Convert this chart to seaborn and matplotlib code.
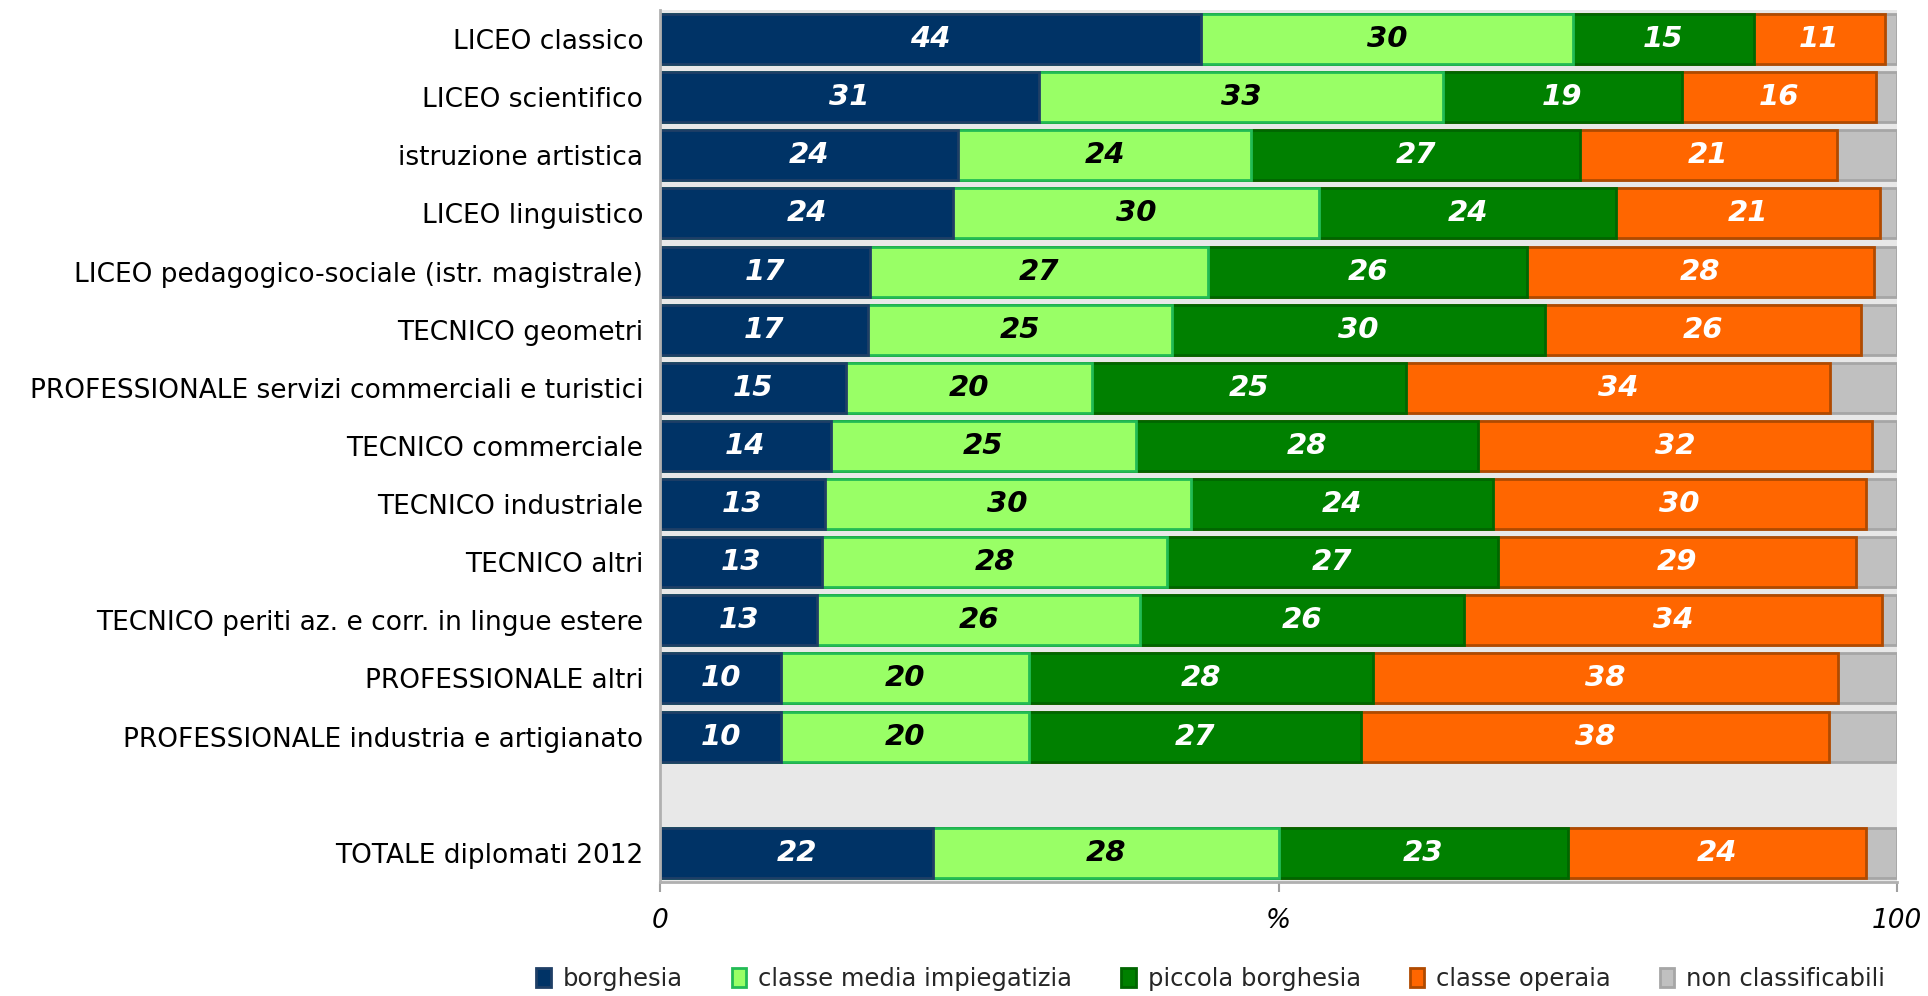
import matplotlib
matplotlib.use("Agg")
import matplotlib.pyplot as plt
import seaborn as sns
import pandas as pd
from matplotlib.patches import Patch

categories = [
    "LICEO classico",
    "LICEO scientifico",
    "istruzione artistica",
    "LICEO linguistico",
    "LICEO pedagogico-sociale (istr. magistrale)",
    "TECNICO geometri",
    "PROFESSIONALE servizi commerciali e turistici",
    "TECNICO commerciale",
    "TECNICO industriale",
    "TECNICO altri",
    "TECNICO periti az. e corr. in lingue estere",
    "PROFESSIONALE altri",
    "PROFESSIONALE industria e artigianato",
    "TOTALE diplomati 2012",
]
spacer = " "
order = categories[:13] + [spacer] + categories[13:]

series_names = ["borghesia", "classe media impiegatizia", "piccola borghesia",
                "classe operaia", "non classificabili"]
borghesia = [43.7, 30.6, 24.1, 23.7, 17.0, 16.8, 15.0, 13.8, 13.3, 13.1, 12.7, 9.8, 9.8, 22.1]
media_impiegatizia = [30.1, 32.7, 23.7, 29.6, 27.3, 24.6, 19.9, 24.7, 29.6, 27.9, 26.1, 20.0, 20.0, 27.9]
piccola_borghesia = [14.6, 19.3, 26.6, 24.0, 25.8, 30.1, 25.4, 27.6, 24.4, 26.7, 26.2, 27.8, 26.9, 23.4]
classe_operaia = [10.6, 15.7, 20.7, 21.3, 28.0, 25.6, 34.3, 31.9, 30.2, 29.0, 33.8, 37.6, 37.8, 24.1]
non_classificabili = [1.0, 1.7, 4.9, 1.4, 1.9, 2.9, 5.4, 2.0, 2.5, 3.3, 1.2, 4.8, 5.5, 2.5]

series = [borghesia, media_impiegatizia, piccola_borghesia, classe_operaia, non_classificabili]
fills = ["#003366", "#99FF66", "#008000", "#FF6600", "#C0C0C0"]
edges = ["#1F3F66", "#22BB55", "#006600", "#B04A00", "#A6A6A6"]
text_colors = ["white", "black", "white", "white", None]

sns.set_theme(style="white")
plt.rcParams["font.family"] = ["DejaVu Sans"]

fig = plt.figure(figsize=(19.28, 9.96), dpi=100)
ax = fig.add_axes([0.3423, 0.1145, 0.9840 - 0.3423, 0.990 - 0.1145])
ax.set_facecolor("#E8E8E8")

# cumulative sums
cums = []
running = [0.0] * len(categories)
for s in series:
    running = [r + v for r, v in zip(running, s)]
    cums.append(list(running))

# draw from the outermost layer inward so each stack segment is visible
for i in range(len(series) - 1, -1, -1):
    df = pd.DataFrame({"cat": categories, "val": cums[i]})
    sns.barplot(data=df, x="val", y="cat", order=order, orient="h",
                color=fills[i], saturation=1, edgecolor=edges[i], linewidth=2,
                width=0.86, errorbar=None, ax=ax)

# value labels
for i, s in enumerate(series):
    if text_colors[i] is None:
        continue
    for j, cat in enumerate(categories):
        ypos = order.index(cat)
        left = cums[i][j] - s[j]
        ax.text(left + s[j] / 2, ypos, f"{round(s[j]):d}", ha="center", va="center",
                color=text_colors[i], fontsize=21, fontweight="bold", fontstyle="italic")

ax.set_xlim(0, 100)
ax.set_ylim(len(order) - 0.5, -0.5)
ax.set_xlabel("")
ax.set_ylabel("")
ax.set_xticks([0, 50, 100])
ax.set_xticklabels(["0", "%", "100"], fontsize=19, fontstyle="italic", color="black")
ax.tick_params(axis="x", direction="out", length=7, width=1.5, color="#A0A0A0", pad=12,
               bottom=True)
ax.tick_params(axis="y", length=0, pad=12, labelsize=19, labelcolor="black")

for side in ["top", "right"]:
    ax.spines[side].set_visible(False)
for side in ["left", "bottom"]:
    ax.spines[side].set_visible(True)
    ax.spines[side].set_color("#B0B0B0")
    ax.spines[side].set_linewidth(2)

handles = [Patch(facecolor=fills[i], edgecolor=edges[i], linewidth=2, label=series_names[i])
           for i in range(len(series))]
fig.legend(handles=handles, loc="center", bbox_to_anchor=(0.628, 0.017), ncol=5,
           frameon=False, fontsize=17.5, handlelength=0.6, handleheight=0.8,
           handletextpad=0.5, columnspacing=2.0)

fig.savefig("out.png", dpi=100)
